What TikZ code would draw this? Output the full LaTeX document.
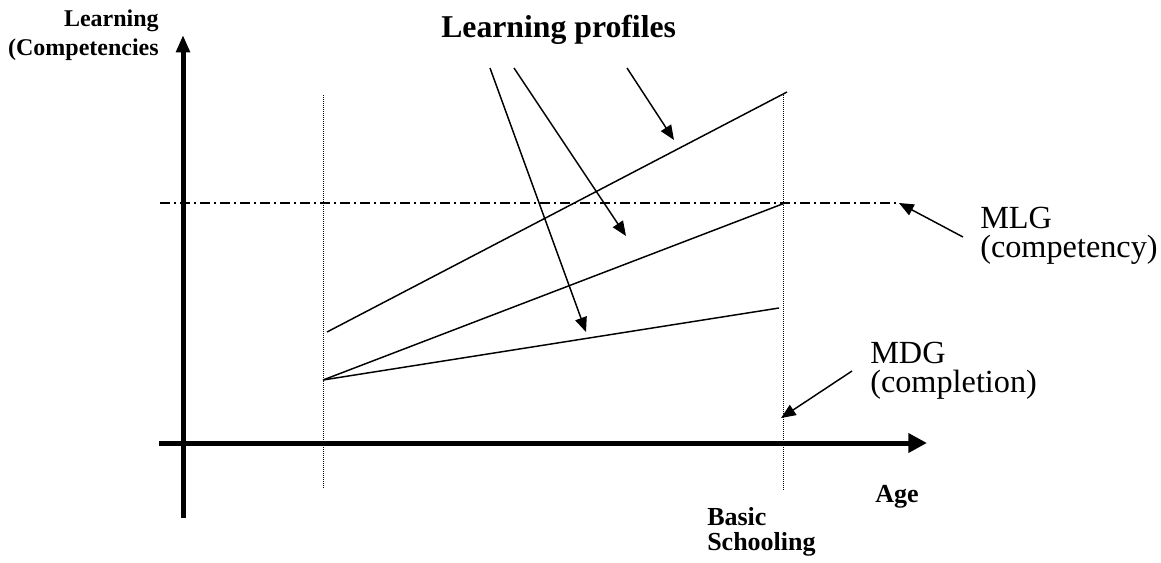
\documentclass[tikz,border=0pt]{standalone}
\usepackage{fontspec}
\setmainfont{Liberation Serif}
\usetikzlibrary{arrows.meta}

\begin{document}
\begin{tikzpicture}[x=0.75pt,y=-0.75pt]
            \tikzstyle{axis}=[line width=3.75pt]
            \tikzstyle{guide}=[line width=0.75pt,dash pattern=on 0.75pt off 0.75pt]
            \tikzstyle{goal line}=[line width=1pt,dash pattern=on 7.5pt off 3pt on 1.5pt off 3pt]
            \tikzstyle{profile}=[line width=1.1pt]
            \tikzstyle{pointer}=[line width=1.1pt,-{Triangle[length=11pt,width=9pt]}]
            \tikzstyle{small bold}=[inner sep=0pt,font=\fontsize{18}{21.75}\selectfont\bfseries]
            \tikzstyle{axis text}=[inner sep=0pt,font=\fontsize{19.5}{18.75}\selectfont\bfseries]
            \tikzstyle{goal text}=[inner sep=0pt,align=left,font=\fontsize{24.2}{21.75}\selectfont]
            \useasboundingbox (0,0) rectangle (1161,562);

            % axes
            \coordinate (ybot) at (183,518);
            \coordinate (ytop) at (183,35);
            \coordinate (xleft) at (159,443);
            \coordinate (xright) at (927,443);
            \draw[axis,-{Triangle[length=13pt,width=10pt]}] (ybot) -- (ytop);
            \draw[axis,-{Triangle[length=14pt,width=14pt]}] (xleft) -- (xright);

            % start and end of basic schooling
            \coordinate (g1top) at (323,95);
            \coordinate (g1bot) at (323,488);
            \coordinate (g2top) at (783,93);
            \coordinate (g2bot) at (783,491);
            \draw[guide] (g1top) -- (g1bot);
            \draw[guide] (g2top) -- (g2bot);

            % competency level
            \coordinate (goalleft) at (160,203);
            \coordinate (goalend) at (899,203);
            \draw[goal line] (goalleft) -- (goalend);

            % profiles
            \coordinate (s1) at (327,332);
            \coordinate (e1) at (787,92);
            \coordinate (s2) at (323,380);
            \coordinate (e2) at (785,203);
            \coordinate (e3) at (779,308);
            \draw[profile] (s1) -- (e1);
            \draw[profile] (s2) -- (e2);
            \draw[profile] (s2) -- (e3);

            % labels (base = last line)
            \node[inner sep=0pt,anchor=base west,font=\fontsize{23.8}{28}\selectfont\bfseries] (title) at (441,37) {Learning profiles};
            \node[small bold,align=right,anchor=base east] (ylabel) at (159,55) {Learning\\(Competencies};
            \node[axis text,anchor=base west] (age) at (875,502) {Age};
            \node[axis text,align=left,anchor=base west] (basic) at (707,550) {Basic\\Schooling};
            \node[goal text,anchor=base west] (mlg) at (980,257) {MLG\\(competency)};
            \node[goal text,anchor=base west] (mdg) at (870,392) {MDG\\(completion)};

            % pointers
            \coordinate (p1) at (490,68);
            \coordinate (p2) at (514,68);
            \coordinate (p3) at (627,68);
            \coordinate (t1) at (586,332);
            \coordinate (t2) at (626,236);
            \coordinate (t3) at (674,140);
            \draw[pointer] (p1) -- (t1);
            \draw[pointer] (p2) -- (t2);
            \draw[pointer] (p3) -- (t3);
            \coordinate (m1) at (963,237);
            \coordinate (m2) at (852,371);
            \coordinate (mdgend) at (781,418);
            \draw[pointer] (m1) -- (goalend);
            \draw[pointer] (m2) -- (mdgend);
        \end{tikzpicture}
\end{document}
